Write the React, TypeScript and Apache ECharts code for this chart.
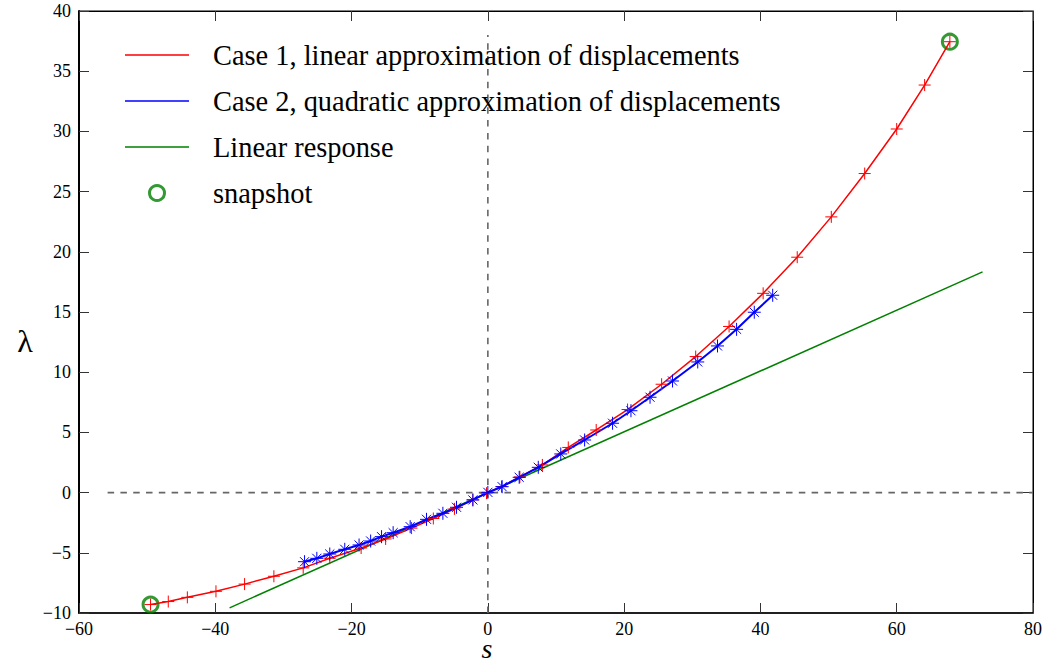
import React, { useEffect, useRef } from 'react';
import * as echarts from 'echarts';

// Axis ticks
const xTicks = [-60, -40, -20, 0, 20, 40, 60, 80];
const yTicks = [-10, -5, 0, 5, 10, 15, 20, 25, 30, 35, 40];

// Case 1, linear approximation of displacements
const case1S = [-49.5, -46.9, -44.1, -39.9, -35.7, -31.4, -27.1, -23.2, -18.6, -15.0, -11.2, -8.0, -4.9, -2.2, -0.2, 2.0, 4.7, 8.0, 11.8, 15.9, 20.5, 25.5, 30.5, 35.4, 40.4, 45.4, 50.4, 55.3, 60.0, 64.1, 67.8];
const case1L = [-9.3, -9.05, -8.7, -8.2, -7.6, -6.95, -6.25, -5.45, -4.6, -3.85, -2.95, -2.15, -1.35, -0.6, -0.05, 0.5, 1.3, 2.3, 3.75, 5.2, 6.9, 9.0, 11.3, 13.8, 16.55, 19.55, 22.9, 26.5, 30.2, 33.85, 37.45];

// Case 2, quadratic approximation of displacements
const case2S = [-26.9, -25.1, -23.2, -21.0, -18.9, -17.2, -15.6, -13.9, -11.4, -9.0, -6.6, -4.6, -2.2, 0.0, 2.1, 4.6, 7.4, 10.7, 14.2, 18.3, 21.0, 23.8, 27.1, 30.8, 33.7, 36.5, 39.1, 41.8];
const case2L = [-5.74, -5.46, -5.1, -4.71, -4.35, -4.02, -3.66, -3.33, -2.83, -2.22, -1.72, -1.22, -0.61, 0.02, 0.49, 1.27, 2.1, 3.21, 4.37, 5.76, 6.8, 7.92, 9.27, 10.85, 12.18, 13.56, 14.98, 16.39];

// Linear response
const linearS = [-37.9, 72.6];
const linearL = [-9.57, 18.33];

// snapshot
const snapS = [-49.5, 67.8];
const snapL = [-9.3, 37.45];

// Reference (dashed) lines
const hRefS = [-55.8, 80];
const hRefL = [0, 0];
const vRefS = [0, 0];
const vRefL = [-10, 38];

const NAME1 = 'Case 1, linear approximation of displacements';
const NAME2 = 'Case 2, quadratic approximation of displacements';
const NAME3 = 'Linear response';
const NAME4 = 'snapshot';
const X_NAME = 's';
const Y_NAME = '\u03bb';

const zip = (a: number[], b: number[]) => a.map((v, i) => [v, b[i]]);
const fmt = (v: number) => (v < 0 ? '\u2212' + Math.abs(v) : String(v));

const PLUS = 'path://M0,5L10,5M5,0L5,10';
const STAR = 'path://M0,5L10,5M5,0L5,10M1.5,1.5L8.5,8.5M8.5,1.5L1.5,8.5';
const LEG_LINE = 'path://M0,0L64,0L64,1.5L0,1.5Z';

const SERIF = '"Liberation Serif", "Times New Roman", serif';

export default function App() {
  const ref = useRef<HTMLDivElement>(null);
  useEffect(() => {
    if (!ref.current) return;
    document.body.style.margin = '0';
    document.body.style.overflow = 'hidden';
    const chart = echarts.init(ref.current, null, { renderer: 'svg' });
    const xMin = xTicks[0];
    const xMax = xTicks[xTicks.length - 1];
    const xInt = xTicks[1] - xTicks[0];
    const yMin = yTicks[0];
    const yMax = yTicks[yTicks.length - 1];
    const yInt = yTicks[1] - yTicks[0];
    const tickStyle = { show: true, inside: true, length: 10, lineStyle: { color: '#333', width: 1 } };
    chart.setOption({
      animation: false,
      backgroundColor: '#ffffff',
      grid: {
        left: 79, right: 13, top: 11, bottom: 49, show: true, borderColor: '#000', borderWidth: 1,
        backgroundColor: 'transparent', containLabel: false, outerBoundsMode: 'none',
      },
      graphic: [
        {
          type: 'text', x: 487, y: 648, silent: true,
          style: { text: X_NAME, font: 'italic 28px ' + SERIF, fill: '#000', align: 'center', verticalAlign: 'middle', lineHeight: 14 },
        },
        {
          type: 'text', x: 25, y: 341, silent: true,
          style: { text: Y_NAME, font: '32px ' + SERIF, fill: '#000', align: 'center', verticalAlign: 'middle' },
        },
      ],
      legend: {
        left: 125,
        top: 41,
        orient: 'vertical',
        padding: 0,
        itemWidth: 64,
        itemHeight: 15,
        itemGap: 18,
        selectedMode: false,
        textStyle: { fontFamily: SERIF, fontSize: 28.4, color: '#000', lineHeight: 28, padding: [0, 0, 0, 19] },
        data: [
          { name: NAME1, icon: LEG_LINE, itemStyle: { color: '#ff0000', borderWidth: 0 } },
          { name: NAME2, icon: LEG_LINE, itemStyle: { color: '#0000ff', borderWidth: 0 } },
          { name: NAME3, icon: LEG_LINE, itemStyle: { color: '#008000', borderWidth: 0 } },
          { name: NAME4, icon: 'circle', itemStyle: { color: 'rgba(0,0,0,0)', borderColor: '#008000', borderWidth: 3 } },
        ],
      },
      xAxis: [
        {
          type: 'value', min: xMin, max: xMax, interval: xInt, position: 'bottom',
          axisLine: { show: true, onZero: false, lineStyle: { color: '#000', width: 1.5 } },
          axisTick: tickStyle,
          axisLabel: { formatter: fmt, fontFamily: SERIF, fontSize: 18, lineHeight: 16, color: '#000', margin: 8 },
          splitLine: { show: false },
        },
        {
          type: 'value', min: xMin, max: xMax, interval: xInt, position: 'top',
          axisLine: { show: true, onZero: false, lineStyle: { color: '#000', width: 1 } },
          axisTick: tickStyle,
          axisLabel: { show: false },
          splitLine: { show: false },
        },
      ],
      yAxis: [
        {
          type: 'value', min: yMin, max: yMax, interval: yInt, position: 'left',
          axisLine: { show: true, onZero: false, lineStyle: { color: '#000', width: 2 } },
          axisTick: tickStyle,
          axisLabel: { formatter: fmt, fontFamily: SERIF, fontSize: 18, color: '#000', margin: 8 },
          splitLine: { show: false },
        },
        {
          type: 'value', min: yMin, max: yMax, interval: yInt, position: 'right',
          axisLine: { show: true, onZero: false, lineStyle: { color: '#000', width: 1 } },
          axisTick: tickStyle,
          axisLabel: { show: false },
          splitLine: { show: false },
        },
      ],
      series: [
        {
          name: 'ref-h', type: 'line', data: zip(hRefS, hRefL), symbol: 'none', silent: true,
          lineStyle: { color: '#666', width: 1.6, type: [6.5, 6.3] },
        },
        {
          name: 'ref-v', type: 'line', data: zip(vRefS, vRefL), symbol: 'none', silent: true,
          lineStyle: { color: '#666', width: 1.6, type: [6.5, 6.3] },
        },
        {
          name: NAME3, type: 'line', data: zip(linearS, linearL), symbol: 'none',
          color: '#008000', lineStyle: { color: '#008000', width: 1.5 },
        },
        {
          name: NAME1, type: 'line', data: zip(case1S, case1L), symbol: PLUS, symbolSize: 12,
          color: '#ff0000',
          itemStyle: { color: '#ff0000', borderColor: '#ff0000', borderWidth: 1 },
          lineStyle: { color: '#ff0000', width: 1.5 },
        },
        {
          name: NAME2, type: 'line', data: zip(case2S, case2L), symbol: STAR, symbolSize: 13,
          color: '#0000ff',
          itemStyle: { color: '#0000ff', borderColor: '#0000ff', borderWidth: 1 },
          lineStyle: { color: '#0000ff', width: 2 },
        },
        {
          name: NAME4, type: 'scatter', data: zip(snapS, snapL), symbol: 'circle', symbolSize: 15,
          color: '#008000',
          itemStyle: { color: 'rgba(0,0,0,0)', borderColor: '#008000', borderWidth: 3 },
        },
      ],
    });
    return () => chart.dispose();
  }, []);
  return (
    <div
      ref={ref}
      style={{ position: 'absolute', left: 0, top: 0, width: 1046, height: 662, background: '#fff' }}
    />
  );
}
